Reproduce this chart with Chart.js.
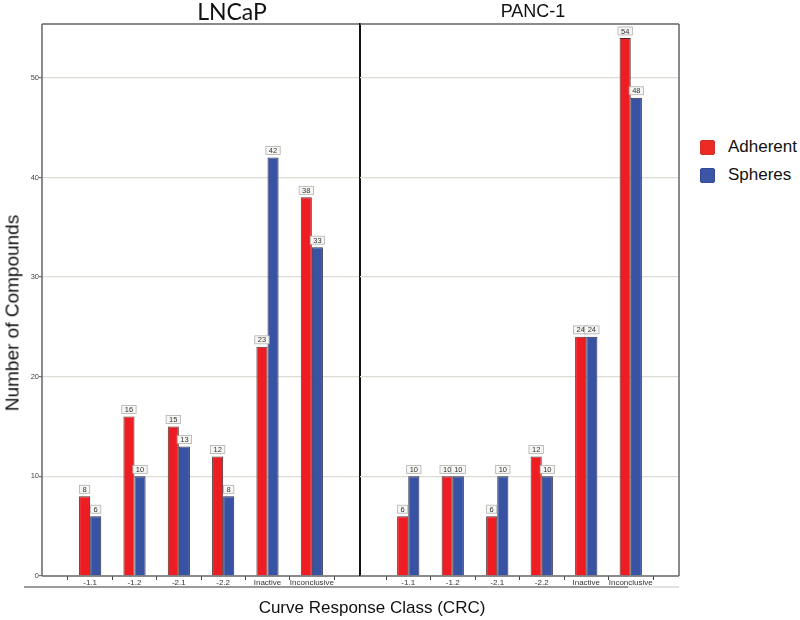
<!DOCTYPE html>
<html>
<head>
<meta charset="utf-8">
<script src="https://cdn.jsdelivr.net/npm/chart.js@4.4.1/dist/chart.umd.min.js"></script>
<style>
	body { margin: 0; background: #fff; }
	#wrap { position: relative; width: 800px; height: 620px; background: #fff; font-family: "Liberation Sans", Arial, sans-serif; color: #111; }
	#wrap canvas { position: absolute; top: 0; }
	.txt { position: absolute; white-space: nowrap; }
	.sw { position: absolute; width: 13px; height: 13px; border-radius: 2px; }
</style>
</head>
<body>
<div id="wrap">
	<canvas id="chartLeft" width="361" height="620" style="left:0"></canvas>
	<canvas id="chartRight" width="320" height="620" style="left:360px"></canvas>

	<div class="txt" style="left:232px;top:0px;transform:translateX(-50%);font-family:Lato,sans-serif;font-size:23px;line-height:23px;">LNCaP</div>
	<div class="txt" style="left:533px;top:2px;transform:translateX(-50%);font-size:18px;line-height:18px;">PANC-1</div>
	<div class="txt" style="left:12px;top:313px;transform:translate(-50%,-50%) rotate(-90deg);font-size:19px;line-height:19px;">Number of Compounds</div>
	<div class="txt" style="left:372px;top:607px;transform:translate(-50%,-50%);font-size:17px;line-height:17px;">Curve Response Class (CRC)</div>

	<div class="sw" style="left:700px;top:140px;background:#ee2a24;border:1px solid #d0302a;"></div>
	<div class="txt" style="left:728px;top:138px;font-size:17px;line-height:18px;">Adherent</div>
	<div class="sw" style="left:700px;top:168px;background:#3c55a5;border:1px solid #34489a;"></div>
	<div class="txt" style="left:728px;top:166px;font-size:17px;line-height:18px;">Spheres</div>
</div>

<script>
// categories and values
const categories = ['-1.1', '-1.2', '-2.1', '-2.2', 'Inactive', 'Inconclusive'];
const lncapAdherent = [8, 16, 15, 12, 23, 38];
const lncapSpheres = [6, 10, 13, 8, 42, 33];
const panc1Adherent = [6, 10, 6, 12, 24, 54];
const panc1Spheres = [10, 10, 10, 10, 24, 48];
const yMax = 55.4;
const yStep = 10;

const RED = '#ee1d24';
const BLUE = '#3953a4';

// x axis sits inside the panel, leaving a gap at both ends
const insetX = {
	id: 'insetX',
	afterLayout(chart) {
		const x = chart.scales.x;
		const a = chart.chartArea;
		x.left = a.left + 26;
		x.right = a.right - 26;
		x.width = x.right - x.left;
		x.configure();
	}
};

// panel frame + line under the tick labels
const frame = {
	id: 'frame',
	afterDatasetsDraw(chart, args, opts) {
		const c = chart.ctx;
		const a = chart.chartArea;
		c.save();
		c.lineWidth = 1.5;
		c.strokeStyle = '#666';
		c.beginPath();
		c.moveTo(a.left, a.top);
		c.lineTo(a.right, a.top);
		c.moveTo(a.left, a.bottom);
		c.lineTo(a.right, a.bottom);
		if (opts.side === 'left') {
			c.moveTo(a.left, a.top);
			c.lineTo(a.left, a.bottom);
		} else {
			c.moveTo(a.right, a.top);
			c.lineTo(a.right, a.bottom);
		}
		c.stroke();
		if (opts.side === 'left') {
			c.strokeStyle = '#111';
			c.lineWidth = 2;
			c.beginPath();
			c.moveTo(a.right, a.top - 1);
			c.lineTo(a.right, a.bottom);
			c.stroke();
		}
		c.strokeStyle = '#9a9a9a';
		c.lineWidth = 2;
		c.beginPath();
		c.moveTo(opts.side === 'left' ? 24 : 0, 587);
		c.lineTo(opts.side === 'left' ? chart.width : 268, 587);
		c.stroke();
		if (opts.side !== 'left') {
			c.strokeStyle = '#e2e2e2';
			c.beginPath();
			c.moveTo(268, 587);
			c.lineTo(a.right, 587);
			c.stroke();
		}
		c.restore();
	}
};

// value boxes on top of bars
const valueBoxes = {
	id: 'valueBoxes',
	afterDatasetsDraw(chart) {
		const c = chart.ctx;
		c.save();
		c.font = '7.5px "Liberation Sans", Arial, sans-serif';
		c.textAlign = 'center';
		c.textBaseline = 'middle';
		chart.data.datasets.forEach(function (ds, i) {
			chart.getDatasetMeta(i).data.forEach(function (bar, j) {
				const t = String(ds.data[j]);
				const w = c.measureText(t).width + 6;
				const h = 8;
				const top = bar.y - 3 - h;
				c.fillStyle = '#f6f6f2';
				c.fillRect(bar.x - w / 2, top, w, h);
				c.strokeStyle = '#b0b0b0';
				c.lineWidth = 0.8;
				c.strokeRect(bar.x - w / 2, top, w, h);
				c.fillStyle = '#333';
				c.fillText(t, bar.x, top + h / 2 + 0.5);
			});
		});
		c.restore();
	}
};

function makeChart(id, adherent, spheres, side) {
	const isLeft = side === 'left';
	return new Chart(document.getElementById(id).getContext('2d'), {
		type: 'bar',
		data: {
			labels: categories,
			datasets: [
				{ label: 'Adherent', data: adherent, backgroundColor: RED, borderColor: '#4a3030', borderWidth: 1 },
				{ label: 'Spheres', data: spheres, backgroundColor: BLUE, borderColor: '#2c2c4a', borderWidth: 1 }
			]
		},
		plugins: [insetX, frame, valueBoxes],
		options: {
			responsive: false,
			animation: false,
			categoryPercentage: 0.5,
			barPercentage: 1.0,
			layout: { padding: { top: 24, right: 1, left: 0, bottom: 0 } },
			plugins: {
				legend: { display: false },
				title: { display: false },
				tooltip: { enabled: false },
				frame: { side: side }
			},
			scales: {
				x: {
					offset: true,
					border: { display: false },
					grid: { offset: true, drawOnChartArea: false, tickLength: 4, tickColor: '#444', lineWidth: 1 },
					ticks: {
						autoSkip: false, maxRotation: 0, minRotation: 0, padding: -2,
						color: '#333', font: { family: '"Liberation Sans", Arial, sans-serif', size: 8 }
					},
					afterFit: function (s) { s.height = 44; }
				},
				y: {
					min: 0,
					max: yMax,
					border: { display: false },
					grid: {
						color: function (ctx) { return ctx.tick && ctx.tick.value === 0 ? 'rgba(0,0,0,0)' : '#dcdcd4'; },
						lineWidth: 1.2,
						drawTicks: isLeft,
						tickLength: 3,
						tickColor: '#777'
					},
					ticks: {
						display: isLeft,
						stepSize: yStep,
						includeBounds: false,
						padding: 0,
						color: '#444',
						font: { family: '"Liberation Sans", Arial, sans-serif', size: 7.5 }
					},
					afterFit: function (s) { s.width = isLeft ? 42 : 0; }
				}
			}
		}
	});
}

window.chartLeft = makeChart('chartLeft', lncapAdherent, lncapSpheres, 'left');
window.chartRight = makeChart('chartRight', panc1Adherent, panc1Spheres, 'right');
</script>
</body>
</html>
